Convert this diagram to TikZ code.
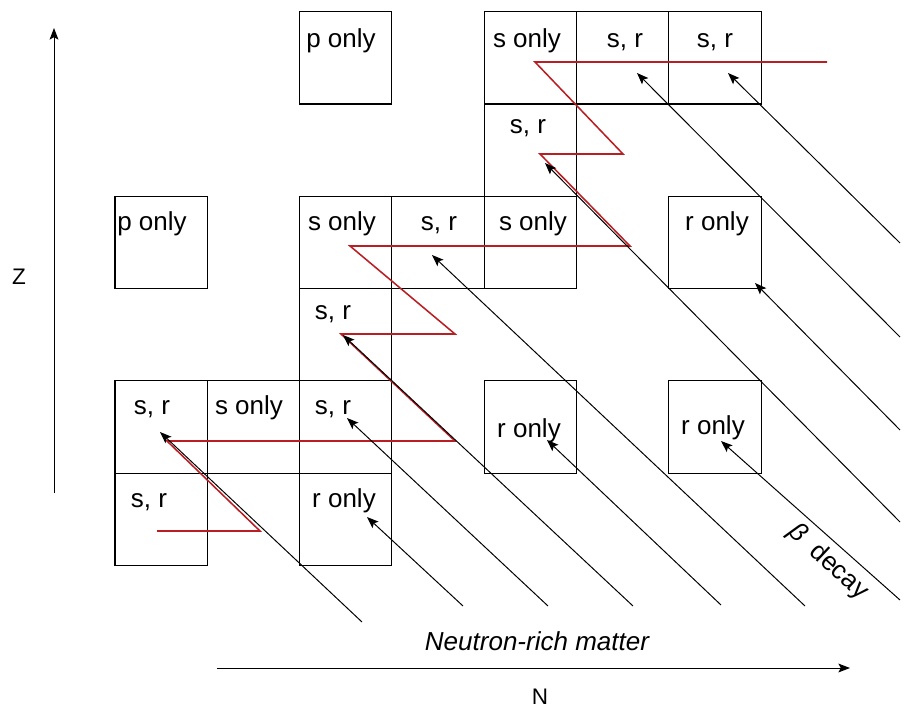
\documentclass[tikz,border=0pt]{standalone}
\usepackage{fontspec}
\setmainfont{Liberation Sans}
\usepackage{tikz}
\usetikzlibrary{arrows.meta}
\definecolor{zigred}{RGB}{185,30,35}

\tikzset{
	cell/.style={draw, line width=0.8pt, minimum size=2.3075cm, inner sep=0pt},
	lbl/.style={anchor=base, inner sep=0pt, font=\fontsize{18.5}{22}\selectfont},
	axlbl/.style={anchor=base, inner sep=0pt, font=\fontsize{16}{18}\selectfont},
	decay/.style={-{Stealth[length=0.29cm, width=0.22cm, inset=0.06cm]}, line width=0.7pt},
	zig/.style={zigred, line width=1.1pt},
}

\begin{document}
\begin{tikzpicture}[x=0.025cm, y=-0.025cm]
		\useasboundingbox (0,0) rectangle (904,710);
		% Cells (column, row):
		\node[cell] (c20) at (345.75, 57.85){};
		\node[cell] (c40) at (530.35, 57.85){};
		\node[cell] (c50) at (622.65, 57.85){};
		\node[cell] (c60) at (714.95, 57.85){};
		\node[cell] (c41) at (530.35, 150.15){};
		\node[cell] (c02) at (161.15, 242.45){};
		\node[cell] (c22) at (345.75, 242.45){};
		\node[cell] (c32) at (438.05, 242.45){};
		\node[cell] (c42) at (530.35, 242.45){};
		\node[cell] (c62) at (714.95, 242.45){};
		\node[cell] (c23) at (345.75, 334.75){};
		\node[cell] (c04) at (161.15, 427.05){};
		\node[cell] (c14) at (253.45, 427.05){};
		\node[cell] (c24) at (345.75, 427.05){};
		\node[cell] (c44) at (530.35, 427.05){};
		\node[cell] (c64) at (714.95, 427.05){};
		\node[cell] (c05) at (161.15, 519.35){};
		\node[cell] (c25) at (345.75, 519.35){};
		% Cell texts:
		\node[lbl] (l20) at (341, 47){p only};
		\node[lbl] (l40) at (527, 47){s only};
		\node[lbl] (l50) at (625, 47){s, r};
		\node[lbl] (l60) at (715, 47){s, r};
		\node[lbl] (l41) at (528, 133){s, r};
		\node[lbl] (l02) at (152, 230){p only};
		\node[lbl] (l22) at (342, 230){s only};
		\node[lbl] (l32) at (439, 230){s, r};
		\node[lbl] (l42) at (533, 230){s only};
		\node[lbl] (l62) at (717, 230){r only};
		\node[lbl] (l23) at (333, 319){s, r};
		\node[lbl] (l04) at (152, 414){s, r};
		\node[lbl] (l14) at (249, 414){s only};
		\node[lbl] (l24) at (333, 414){s, r};
		\node[lbl] (l44) at (529, 437){r only};
		\node[lbl] (l64) at (713, 434){r only};
		\node[lbl] (l05) at (149, 507){s, r};
		\node[lbl] (l25) at (344, 507){r only};
		% Zigzag path:
		\draw[zig] (157, 531) -- (260, 531) -- (167, 441) -- (455, 441) -- (341, 334) -- (455, 334) -- (350, 246) -- (630, 246) -- (540, 154) -- (623, 154) -- (535, 62) -- (827, 62);
		% Decay arrows:
		\coordinate (t1) at (362, 622);  \coordinate (h1) at (160, 432);
		\coordinate (t2) at (463, 606);  \coordinate (h2) at (367, 517);
		\coordinate (t3) at (548, 606);  \coordinate (h3) at (347, 418);
		\coordinate (t4) at (633, 606);  \coordinate (h4) at (343, 335);
		\coordinate (t5) at (721, 605);  \coordinate (h5) at (547, 440);
		\coordinate (t6) at (805, 606);  \coordinate (h6) at (432, 255);
		\coordinate (t7) at (900, 600);  \coordinate (h7) at (721, 441);
		\coordinate (t8) at (900, 522);  \coordinate (h8) at (545, 163);
		\coordinate (t9) at (900, 430);  \coordinate (h9) at (755, 283);
		\coordinate (t10) at (900, 337); \coordinate (h10) at (637, 73);
		\coordinate (t11) at (900, 243); \coordinate (h11) at (728, 73);
		\draw[decay] (t1) -- (h1);
		\draw[decay] (t2) -- (h2);
		\draw[decay] (t3) -- (h3);
		\draw[decay] (t4) -- (h4);
		\draw[decay] (t5) -- (h5);
		\draw[decay] (t6) -- (h6);
		\draw[decay] (t7) -- (h7);
		\draw[decay] (t8) -- (h8);
		\draw[decay] (t9) -- (h9);
		\draw[decay] (t10) -- (h10);
		\draw[decay] (t11) -- (h11);
		\node[font=\fontsize{18.5}{22}\selectfont, rotate=-43, inner sep=0pt] (beta) at (828, 562){\textit{β}\ \ decay};
		% Axes:
		\coordinate (zlo) at (54, 493); \coordinate (zhi) at (54, 28);
		\coordinate (nlo) at (217, 668); \coordinate (nhi) at (850, 668);
		\draw[decay] (zlo) -- (zhi);
		\draw[decay] (nlo) -- (nhi);
		\node[axlbl] (zl) at (19, 284){Z};
		\node[axlbl] (nl) at (540, 704){N};
		\node[lbl, font=\fontsize{18.5}{22}\selectfont\itshape] (rich) at (537, 650){Neutron-rich matter};
	\end{tikzpicture}
\end{document}
